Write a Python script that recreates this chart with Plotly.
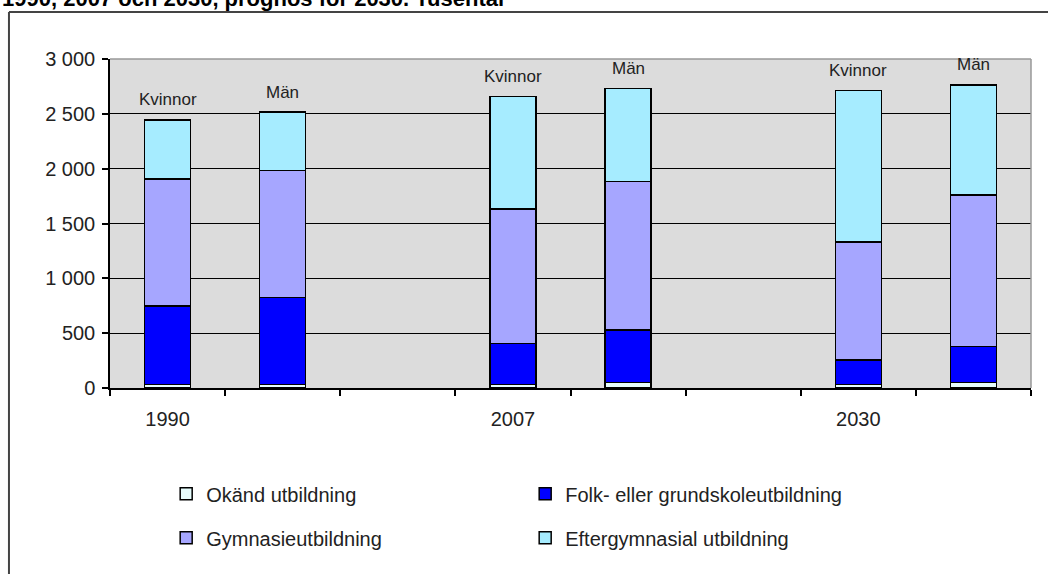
import plotly.graph_objects as go

# Befolkning efter utbildningsnivå och kön, tusental
slots = ["1990 Kvinnor", "1990 Män", "gap1", "2007 Kvinnor", "2007 Män",
         "gap2", "2030 Kvinnor", "2030 Män"]
slotLabels = ["1990", "", "", "2007", "", "", "2030", ""]
bars = ["1990 Kvinnor", "1990 Män", "2007 Kvinnor", "2007 Män",
        "2030 Kvinnor", "2030 Män"]
sex = ["Kvinnor", "Män", "Kvinnor", "Män", "Kvinnor", "Män"]

okand = [30, 30, 30, 50, 30, 50]
folk = [720, 795, 375, 480, 225, 330]
gym = [1155, 1160, 1225, 1355, 1075, 1380]
efter = [540, 530, 1030, 845, 1385, 1005]

yTicks = [0, 500, 1000, 1500, 2000, 2500, 3000]

font = "Liberation Sans, Arial, sans-serif"

series = [
    ("Okänd utbildning", okand, "#E6FCFC", "legend"),
    ("Folk- eller grundskoleutbildning", folk, "#0000FF", "legend"),
    ("Gymnasieutbildning", gym, "#A6A6FF", "legend2"),
    ("Eftergymnasial utbildning", efter, "#A6ECFF", "legend2"),
]

fig = go.Figure()
for name, vals, color, leg in series:
    fig.add_trace(go.Bar(
        x=bars, y=vals, name=name, legend=leg,
        marker=dict(color=color, line=dict(color="black", width=1.5)),
        width=0.4,
    ))

totals = [a + b + c + d for a, b, c, d in zip(okand, folk, gym, efter)]
for b, s, t in zip(bars, sex, totals):
    fig.add_annotation(x=b, y=t, text=s, showarrow=False, yanchor="middle",
                       yshift=20, font=dict(size=17, color="#222", family=font))

# titel, avskuren i överkant som i originalet
fig.add_annotation(xref="paper", yref="paper", x=-0.1194, y=1.1413, xanchor="left",
                   yanchor="bottom",
                   text="<b>1990, 2007 och 2030, prognos för 2030. Tusental</b>",
                   showarrow=False, font=dict(size=22, color="black", family=font))

# ram runt diagrammet
fig.add_shape(type="line", xref="paper", yref="paper", x0=-0.1097, x1=1.03,
              y0=1.1429, y1=1.1429, line=dict(color="#444", width=2))
fig.add_shape(type="line", xref="paper", yref="paper", x0=-0.1097, x1=-0.1097,
              y0=1.1429, y1=-0.6, line=dict(color="#444", width=2))
# grå kant på ritytan
fig.add_shape(type="line", xref="paper", yref="paper", x0=0, x1=1, y0=1, y1=1,
              line=dict(color="#999", width=1.5), layer="above")
fig.add_shape(type="line", xref="paper", yref="paper", x0=1, x1=1, y0=0, y1=1,
              line=dict(color="#999", width=1.5), layer="above")

legendStyle = dict(orientation="h", x=0.061, xanchor="left", yanchor="top",
                   entrywidth=314, itemwidth=30, traceorder="normal",
                   font=dict(size=20, color="#222", family=font))

fig.update_layout(
    width=1048, height=574,
    margin=dict(l=110, r=17, t=59, b=186),
    paper_bgcolor="white", plot_bgcolor="#DCDCDC",
    barmode="stack", separators=", ",
    font=dict(family=font, size=14, color="#222"),
    legend=dict(legendStyle, y=-0.262),
    legend2=dict(legendStyle, y=-0.396),
)
fig.update_xaxes(type="category", categoryorder="array", categoryarray=slots,
                 tickvals=slots, ticktext=slotLabels, tickson="boundaries",
                 ticks="outside", ticklen=6, tickcolor="black", tickwidth=1.5,
                 showline=True, linecolor="black", linewidth=1.5,
                 showgrid=False, ticklabelstandoff=12, automargin=False,
                 tickfont=dict(size=20, color="#222"), fixedrange=True)
fig.update_yaxes(range=[0, 3000], tickvals=yTicks, tickformat=",d",
                 ticks="outside", ticklen=6, tickcolor="black", tickwidth=1.5,
                 showline=True, linecolor="black", linewidth=1.5,
                 showgrid=True, gridcolor="black", gridwidth=1.2,
                 zeroline=False, ticklabelstandoff=3, automargin=False,
                 tickfont=dict(size=20, color="#222"))

fig.write_html("out.html", config={"displayModeBar": False},
               post_script="document.body.style.margin='0';")
